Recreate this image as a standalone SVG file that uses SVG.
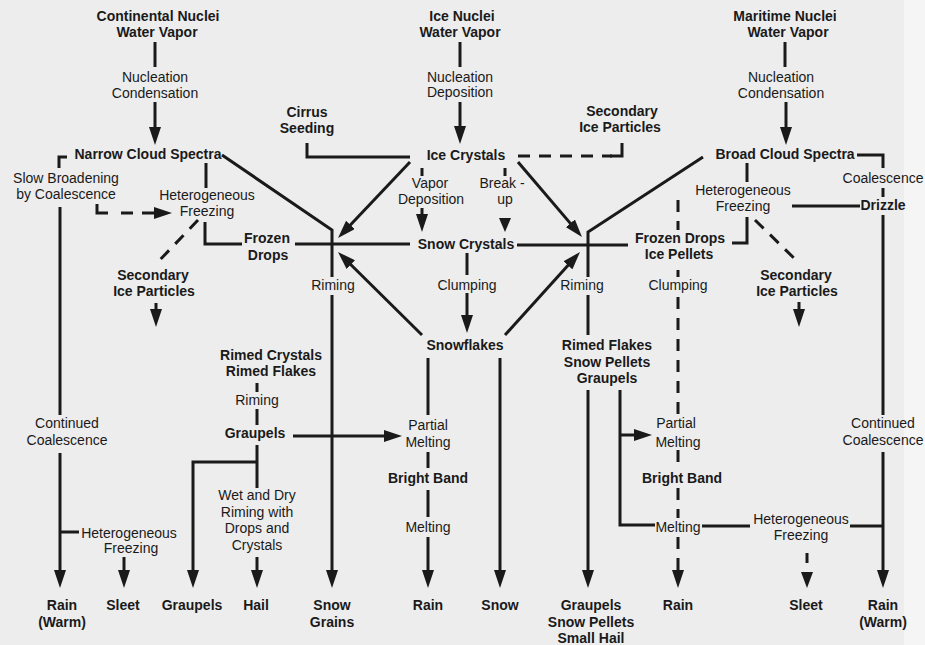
<svg xmlns="http://www.w3.org/2000/svg" width="925" height="645" viewBox="0 0 925 645">
<defs>
<style>
text{font-family:"Liberation Sans",Arial,Helvetica,sans-serif;font-size:14px;fill:#1a1a1a;text-anchor:middle}
.b{font-weight:bold}
.ln{fill:none;stroke:#1a1a1a;stroke-width:3}
.ds{stroke-dasharray:12 9}
.ar{marker-end:url(#ah)}
.tri{fill:#1a1a1a}
</style>
<marker id="ah" markerUnits="userSpaceOnUse" markerWidth="18" markerHeight="12" viewBox="0 0 18 12" refX="8" refY="6" orient="auto">
<path d="M0,0 L18,6 L0,12 z" fill="#1a1a1a"/>
</marker>
</defs>
<rect x="0" y="0" width="925" height="645" fill="#ededed"/>
<rect x="904" y="0" width="21" height="645" fill="#f5f5f5"/>

<g id="connectors">
<!-- left column -->
<path class="ln" d="M155,42 V67"/>
<path class="ln ar" d="M155,102 V135"/>
<path class="ln" d="M67,157 H59 V168"/>
<path class="ln" d="M60,207 V415"/>
<path class="ln ar" d="M60,453 V578"/>
<path class="ln" d="M60,532 H79"/>
<path class="ln ar" d="M124,557 V578"/>
<path class="ln" d="M97,204 V213 H108"/>
<path class="ln ds ar" d="M121,213 H162"/>
<path class="ln" d="M206,163 V188"/>
<path class="ln" d="M205,222 V244 H242"/>
<path class="ln ds" d="M198,220 L157,263"/>
<path class="ln ar" d="M156,303 V317"/>
<path class="ln" d="M222,155 L332,230 V277"/>
<path class="ln ar" d="M332,295 V578"/>
<path class="ln" d="M295,244 H410"/>
<path class="ln ar" d="M410,162 L344.9,230.7"/>
<path class="ln ar" d="M422,335 L345.1,259"/>
<path class="ln" d="M257,383 V392"/>
<path class="ln" d="M257,409 V425"/>
<path class="ln ar" d="M293,436 H392"/>
<path class="ln" d="M257,445 V488"/>
<path class="ln ar" d="M257,462 H193 V578"/>
<path class="ln ar" d="M257,557 V578"/>
<!-- middle column -->
<path class="ln" d="M460,42 V67"/>
<path class="ln ar" d="M460,102 V134"/>
<path class="ln" d="M307,143 V157 H410"/>
<path class="ln ds" d="M518,156 H612"/>
<path class="ln" d="M610,156 H622 V143"/>
<path class="ln" d="M422,168 V176"/>
<path class="ln ar" d="M422,208 V222"/>
<path class="ln" d="M505,168 V176"/>
<polygon class="tri" points="499,218 511,218 505,232"/>
<path class="ln" d="M467,253 V275"/>
<path class="ln ar" d="M467,293 V323"/>
<path class="ln" d="M428,358 V415"/>
<path class="ln" d="M428,452 V468"/>
<path class="ln" d="M428,490 V517"/>
<path class="ln ar" d="M428,537 V578"/>
<path class="ln ar" d="M500,358 V578"/>
<path class="ln" d="M703,157 L588,232 V277"/>
<path class="ln" d="M588,295 V335"/>
<path class="ln ar" d="M588,390 V578"/>
<path class="ln" d="M517,245 H628"/>
<path class="ln ar" d="M518,162 L575.5,229.4"/>
<path class="ln ar" d="M505,335 L573.3,259.4"/>
<path class="ln" d="M620,390 V525 H655"/>
<path class="ln ar" d="M620,435 H642"/>
<!-- right column -->
<path class="ln" d="M785,42 V67"/>
<path class="ln ar" d="M786,102 V135"/>
<path class="ln" d="M857,155 H883 V168"/>
<path class="ln" d="M883,188 V197"/>
<path class="ln" d="M792,206 H860"/>
<path class="ln" d="M883,215 V415"/>
<path class="ln ar" d="M883,452 V578"/>
<path class="ln" d="M702,526 H750"/>
<path class="ln" d="M850,526 H883"/>
<path class="ln" d="M807,553 V563"/>
<polygon class="tri" points="801,572 813,572 807,588"/>
<path class="ln" d="M747,163 V182"/>
<path class="ln" d="M747,217 V243 H732"/>
<path class="ln ds" d="M755,220 L798,262"/>
<path class="ln ar" d="M799,302 V317"/>
<path class="ln ds" d="M678,200 V230"/>
<path class="ln" d="M678,270 V277"/>
<path class="ln ds" d="M678,297 V420"/>
<path class="ln ds" d="M678,450 V470"/>
<path class="ln ds" d="M678,488 V518"/>
<path class="ln ds ar" d="M678,537 V578"/>
</g>

<g id="continental-nuclei"><text class="b" x="158" y="21">Continental Nuclei</text><text class="b" x="157" y="37">Water Vapor</text></g>
<g id="nucleation-condensation-left"><text x="155" y="82">Nucleation</text><text x="155" y="98">Condensation</text></g>
<g id="narrow-cloud-spectra"><text class="b" x="148" y="159">Narrow Cloud Spectra</text></g>
<g id="slow-broadening"><text x="66" y="183">Slow Broadening</text><text x="66" y="199">by Coalescence</text></g>
<g id="het-freezing-left"><text x="207" y="200">Heterogeneous</text><text x="207" y="216">Freezing</text></g>
<g id="frozen-drops-left"><text class="b" x="267" y="243">Frozen</text><text class="b" x="268" y="260">Drops</text></g>
<g id="secondary-left"><text class="b" x="153" y="280">Secondary</text><text class="b" x="154" y="296">Ice Particles</text></g>
<g id="rimed-crystals"><text class="b" x="271" y="360">Rimed Crystals</text><text class="b" x="271" y="376">Rimed Flakes</text></g>
<g id="riming-left-mid"><text x="257" y="405">Riming</text></g>
<g id="graupels-mid"><text class="b" x="255" y="438">Graupels</text></g>
<g id="continued-coalescence-left"><text x="67" y="428">Continued</text><text x="67" y="445">Coalescence</text></g>
<g id="wet-dry-riming"><text x="257" y="500">Wet and Dry</text><text x="257" y="517">Riming with</text><text x="257" y="533">Drops and</text><text x="257" y="550">Crystals</text></g>
<g id="het-freezing-bottom-left"><text x="129" y="538">Heterogeneous</text><text x="131" y="553">Freezing</text></g>
<g id="rain-warm-left"><text class="b" x="62" y="610">Rain</text><text class="b" x="62" y="627">(Warm)</text></g>
<g id="sleet-left"><text class="b" x="123" y="610">Sleet</text></g>
<g id="graupels-out"><text class="b" x="192" y="610">Graupels</text></g>
<g id="hail"><text class="b" x="256" y="610">Hail</text></g>
<g id="snow-grains"><text class="b" x="332" y="610">Snow</text><text class="b" x="332" y="627">Grains</text></g>

<g id="ice-nuclei"><text class="b" x="462" y="21">Ice  Nuclei</text><text class="b" x="460" y="37">Water Vapor</text></g>
<g id="nucleation-deposition"><text x="460" y="82">Nucleation</text><text x="460" y="97">Deposition</text></g>
<g id="cirrus-seeding"><text class="b" x="307" y="117">Cirrus</text><text class="b" x="307" y="133">Seeding</text></g>
<g id="secondary-top"><text class="b" x="622" y="116">Secondary</text><text class="b" x="620" y="132">Ice Particles</text></g>
<g id="ice-crystals"><text class="b" x="466" y="160">Ice  Crystals</text></g>
<g id="vapor-deposition"><text x="430" y="188">Vapor</text><text x="431" y="204">Deposition</text></g>
<g id="break-up"><text x="502" y="188">Break -</text><text x="505" y="204">up</text></g>
<g id="snow-crystals"><text class="b" x="466" y="249">Snow Crystals</text></g>
<g id="riming-left"><text x="333" y="290">Riming</text></g>
<g id="clumping-mid"><text x="467" y="290">Clumping</text></g>
<g id="riming-right"><text x="582" y="290">Riming</text></g>
<g id="snowflakes"><text class="b" x="465" y="350">Snowflakes</text></g>
<g id="rimed-flakes"><text class="b" x="607" y="350">Rimed Flakes</text><text class="b" x="607" y="367">Snow Pellets</text><text class="b" x="607" y="383">Graupels</text></g>
<g id="partial-melting-mid"><text x="428" y="430">Partial</text><text x="428" y="447">Melting</text></g>
<g id="bright-band-mid"><text class="b" x="428" y="483">Bright Band</text></g>
<g id="melting-mid"><text x="428" y="532">Melting</text></g>
<g id="rain-mid"><text class="b" x="428" y="610">Rain</text></g>
<g id="snow"><text class="b" x="500" y="610">Snow</text></g>
<g id="graupels-pellets-hail"><text class="b" x="591" y="610">Graupels</text><text class="b" x="591" y="627">Snow Pellets</text><text class="b" x="591" y="643">Small Hail</text></g>

<g id="maritime-nuclei"><text class="b" x="785" y="21">Maritime  Nuclei</text><text class="b" x="788" y="37">Water Vapor</text></g>
<g id="nucleation-condensation-right"><text x="781" y="82">Nucleation</text><text x="781" y="98">Condensation</text></g>
<g id="broad-cloud-spectra"><text class="b" x="785" y="159">Broad Cloud Spectra</text></g>
<g id="coalescence-right"><text x="883" y="183">Coalescence</text></g>
<g id="drizzle"><text class="b" x="883" y="210">Drizzle</text></g>
<g id="het-freezing-right"><text x="743" y="195">Heterogeneous</text><text x="743" y="211">Freezing</text></g>
<g id="frozen-drops-right"><text class="b" x="680" y="243">Frozen Drops</text><text class="b" x="679" y="259">Ice Pellets</text></g>
<g id="clumping-right"><text x="678" y="290">Clumping</text></g>
<g id="secondary-right"><text class="b" x="796" y="280">Secondary</text><text class="b" x="797" y="296">Ice Particles</text></g>
<g id="partial-melting-right"><text x="676" y="428">Partial</text><text x="678" y="447">Melting</text></g>
<g id="bright-band-right"><text class="b" x="682" y="483">Bright Band</text></g>
<g id="melting-right"><text x="678" y="532">Melting</text></g>
<g id="het-freezing-bottom-right"><text x="801" y="524">Heterogeneous</text><text x="801" y="540">Freezing</text></g>
<g id="continued-coalescence-right"><text x="883" y="428">Continued</text><text x="883" y="445">Coalescence</text></g>
<g id="rain-right"><text class="b" x="678" y="610">Rain</text></g>
<g id="sleet-right"><text class="b" x="806" y="610">Sleet</text></g>
<g id="rain-warm-right"><text class="b" x="883" y="610">Rain</text><text class="b" x="883" y="627">(Warm)</text></g>
</svg>
